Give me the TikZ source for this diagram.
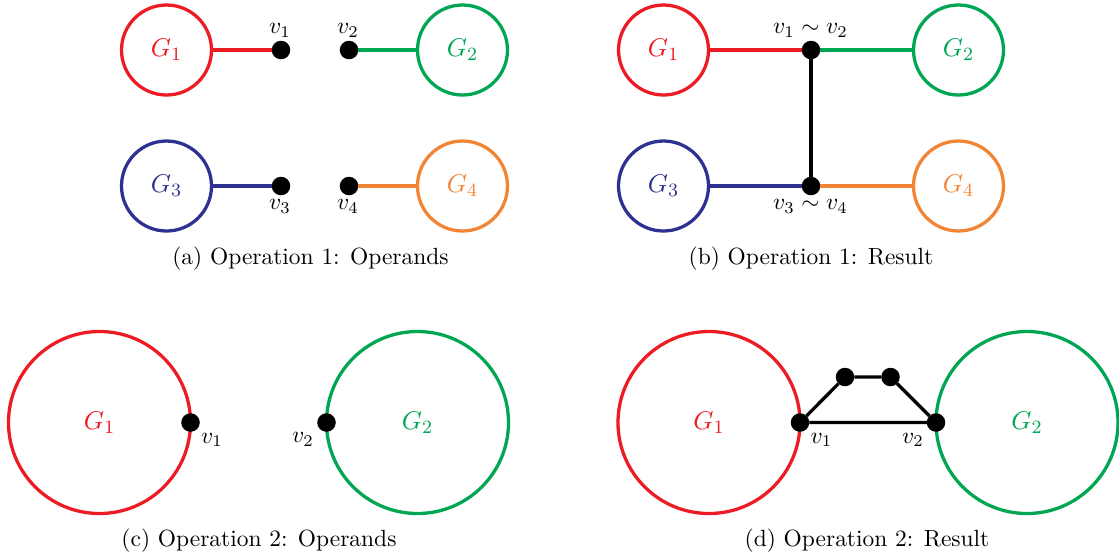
\documentclass[tikz,border=0pt]{standalone}
\definecolor{gred}{RGB}{237,28,36}
\definecolor{ggreen}{RGB}{0,166,81}
\definecolor{gblue}{RGB}{46,49,146}
\definecolor{gorange}{RGB}{242,133,52}
\begin{document}
\begin{tikzpicture}[x=0.4267pt,y=-0.4267pt,
  graph/.style={circle,draw=#1,text=#1,line width=1.4pt,inner sep=0pt,outer sep=0pt,font=\fontsize{11}{13}\selectfont},
  smallg/.style={minimum size=38.4pt},
  bigg/.style={minimum size=77.66pt},
  vtx/.style={circle,fill=black,inner sep=0pt,outer sep=0pt,minimum size=7.9pt},
  lbl/.style={inner sep=0pt},
  link/.style={line width=1.4pt},
  captext/.style={inner sep=0pt}]
\useasboundingbox (0,0) rectangle (1119,558);

% ---------- (a) ----------
\node[graph=gred,smallg] (a1) at (166.5,50) {$G_1$};
\node[graph=ggreen,smallg] (a2) at (462.5,50) {$G_2$};
\node[graph=gblue,smallg] (a3) at (166.5,186) {$G_3$};
\node[graph=gorange,smallg] (a4) at (462.5,186) {$G_4$};
\node[vtx] (av1) at (281,50) {};
\node[vtx] (av2) at (349,50) {};
\node[vtx] (av3) at (281,186) {};
\node[vtx] (av4) at (349,186) {};
\draw[link,gred] (a1) -- (av1);
\draw[link,ggreen] (av2) -- (a2);
\draw[link,gblue] (a3) -- (av3);
\draw[link,gorange] (av4) -- (a4);
\node[lbl] (lav1) at (280,30.5) {$v_1$};
\node[lbl] (lav2) at (348,30.5) {$v_2$};
\node[lbl] (lav3) at (280,206.5) {$v_3$};
\node[lbl] (lav4) at (348,206.5) {$v_4$};
\node[captext] (capa) at (310.5,259) {(a) Operation 1: Operands};

% ---------- (b) ----------
\node[graph=gred,smallg] (b1) at (663.5,50) {$G_1$};
\node[graph=ggreen,smallg] (b2) at (958.5,50) {$G_2$};
\node[graph=gblue,smallg] (b3) at (663.5,186) {$G_3$};
\node[graph=gorange,smallg] (b4) at (958.5,186) {$G_4$};
\node[vtx] (bv12) at (811,50) {};
\node[vtx] (bv34) at (811,186) {};
\draw[link,gred] (b1) -- (bv12);
\draw[link,ggreen] (bv12) -- (b2);
\draw[link,gblue] (b3) -- (bv34);
\draw[link,gorange] (bv34) -- (b4);
\draw[link,black] (bv12) -- (bv34);
\node[lbl] (lbv12) at (810.5,30.5) {$v_1\sim v_2$};
\node[lbl] (lbv34) at (810.5,206.5) {$v_3\sim v_4$};
\node[captext] (capb) at (811,259) {(b) Operation 1: Result};

% ---------- (c) ----------
\node[graph=gred,bigg] (c1) at (99.5,422.5) {$G_1$};
\node[graph=ggreen,bigg] (c2) at (417.5,422.5) {$G_2$};
\node[vtx] (cv1) at (c1.east) {};
\node[vtx] (cv2) at (c2.west) {};
\node[lbl] (lcv1) at (212,440) {$v_1$};
\node[lbl] (lcv2) at (303,439.5) {$v_2$};
\node[captext] (capc) at (259,540.5) {(c) Operation 2: Operands};

% ---------- (d) ----------
\node[graph=gred,bigg] (d1) at (709,422.5) {$G_1$};
\node[graph=ggreen,bigg] (d2) at (1027,422.5) {$G_2$};
\node[vtx] (dv1) at (d1.east) {};
\node[vtx] (dv2) at (d2.west) {};
\node[vtx] (dt1) at (845,377) {};
\node[vtx] (dt2) at (890.5,377) {};
\draw[link,black] (dv1) -- (dt1) -- (dt2) -- (dv2) -- (dv1);
\node[lbl] (ldv1) at (821.5,440) {$v_1$};
\node[lbl] (ldv2) at (913,440) {$v_2$};
\node[captext] (capd) at (867,541) {(d) Operation 2: Result};
\end{tikzpicture}
\end{document}
